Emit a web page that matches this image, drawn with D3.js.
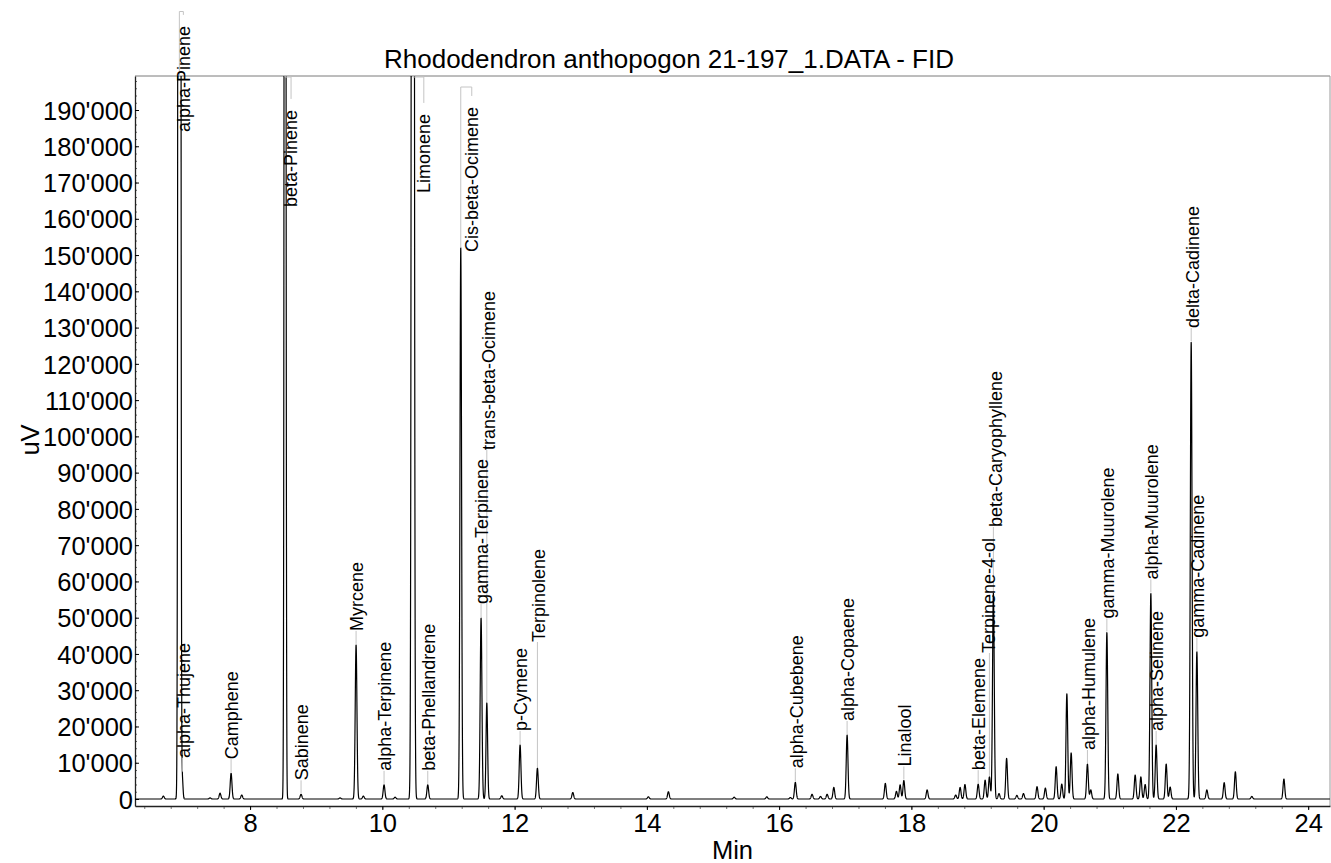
<!DOCTYPE html>
<html>
<head>
<meta charset="utf-8">
<script src="https://cdn.jsdelivr.net/npm/d3@7"></script>
<style>
body { margin: 0; background: #fff; }
text { font-family: "Liberation Sans", Arial, sans-serif; fill: #000; }
</style>
</head>
<body>
<svg id="chart" width="1331" height="863"></svg>
<script>
// peak table: retention time (min), height (uV), peak sigma (min)
var peakTimes = [6.689, 6.931, 6.976, 7.395, 7.546, 7.713, 7.874, 8.529, 8.771, 9.361,
    9.603, 9.713, 10.026, 10.193, 10.461, 10.687, 11.186, 11.493, 11.580, 11.806,
    12.083, 12.345, 12.880, 14.023, 14.326, 15.320, 15.814, 16.170, 16.245, 16.498,
    16.626, 16.726, 16.827, 17.028, 17.606, 17.774, 17.830, 17.886, 18.238, 18.670,
    18.737, 18.810, 19.010, 19.115, 19.180, 19.240, 19.325, 19.440, 19.595, 19.695,
    19.900, 20.026, 20.189, 20.274, 20.351, 20.416, 20.662, 20.713, 20.956, 21.122,
    21.384, 21.470, 21.535, 21.621, 21.701, 21.853, 21.913, 22.231, 22.317, 22.468,
    22.730, 22.899, 23.148, 23.633];
var peakHeights = [800, 2000000, 5500, 300, 1600, 7100, 1100, 700000, 1300, 300,
    42500, 800, 3900, 500, 1000000, 3900, 152000, 49900, 26500, 900,
    14900, 8500, 1800, 600, 2000, 500, 600, 400, 4600, 1300,
    700, 1300, 3200, 17650, 4300, 2100, 3900, 5100, 2500, 1100,
    3200, 4000, 4100, 5200, 6100, 56800, 1500, 11200, 1000, 1500,
    3400, 3000, 8900, 4100, 29000, 12700, 9650, 2500, 45900, 6900,
    6600, 6100, 4000, 56700, 14900, 9650, 3300, 126000, 40600, 2500,
    4500, 7500, 700, 5500];
var peakWidths = [0.013, 0.012, 0.010, 0.013, 0.013, 0.013, 0.013, 0.010, 0.013, 0.013,
    0.013, 0.013, 0.013, 0.013, 0.0142, 0.013, 0.012, 0.013, 0.012, 0.013,
    0.013, 0.013, 0.013, 0.013, 0.013, 0.013, 0.013, 0.013, 0.013, 0.013,
    0.013, 0.013, 0.013, 0.013, 0.013, 0.013, 0.013, 0.013, 0.013, 0.013,
    0.013, 0.013, 0.013, 0.013, 0.013, 0.013, 0.013, 0.013, 0.013, 0.013,
    0.013, 0.013, 0.013, 0.013, 0.013, 0.013, 0.013, 0.013, 0.013, 0.013,
    0.013, 0.013, 0.013, 0.013, 0.013, 0.013, 0.013, 0.013, 0.013, 0.013,
    0.013, 0.013, 0.013, 0.013];

// identified compounds
var compoundNames = ["alpha-Pinene", "alpha-Thujene", "Camphene", "beta-Pinene", "Sabinene",
    "Myrcene", "alpha-Terpinene", "Limonene", "beta-Phellandrene", "Cis-beta-Ocimene",
    "gamma-Terpinene", "trans-beta-Ocimene", "p-Cymene", "Terpinolene", "alpha-Cubebene",
    "alpha-Copaene", "Linalool", "beta-Elemene", "Terpinene-4-ol", "beta-Caryophyllene",
    "alpha-Humulene", "gamma-Muurolene", "alpha-Muurolene", "alpha-Selinene",
    "delta-Cadinene", "gamma-Cadinene"];
var compoundTimes = [6.931, 6.976, 7.713, 8.529, 8.771, 9.603, 10.026, 10.461, 10.687, 11.186,
    11.493, 11.580, 12.083, 12.345, 16.245, 17.028, 17.886, 19.010, 19.180, 19.240,
    20.662, 20.956, 21.621, 21.701, 22.231, 22.317];

var xTickValues = [8, 10, 12, 14, 16, 18, 20, 22, 24];
var yTickValues = [0, 10000, 20000, 30000, 40000, 50000, 60000, 70000, 80000, 90000,
    100000, 110000, 120000, 130000, 140000, 150000, 160000, 170000, 180000, 190000];

var titleText = "Rhododendron anthopogon 21-197_1.DATA - FID";

var svg = d3.select("#chart");
var plotLeft = 135, plotRight = 1330, plotTop = 76, plotBottom = 806;

var x = d3.scaleLinear().domain([6.26, 24.33]).range([plotLeft, plotRight]);
var y = d3.scaleLinear().domain([-1930, 199380]).range([plotBottom, plotTop]);

var fmt = d3.formatLocale({decimal: ".", thousands: "'", grouping: [3], currency: ["", ""]}).format(",d");

// signal at time t = sum of the peaks
function signal(t) {
    var s = 0;
    for (var i = 0; i < peakTimes.length; i++) {
        var d = t - peakTimes[i];
        var w = peakWidths[i];
        if (Math.abs(d) < 10 * w) {
            s += peakHeights[i] * Math.exp(-d * d / (2 * w * w));
        }
    }
    return s;
}

var trace = [];
var step = 0.0015;
for (var t = 6.26; t <= 24.33; t += step) {
    trace.push([t, signal(t)]);
}

svg.append("defs").append("clipPath").attr("id", "plotclip")
    .append("rect").attr("x", plotLeft).attr("y", plotTop)
    .attr("width", plotRight - plotLeft).attr("height", plotBottom - plotTop);

// frame
svg.append("line").attr("x1", plotLeft).attr("x2", plotRight).attr("y1", plotTop).attr("y2", plotTop)
    .attr("stroke", "#7a7a7a").attr("stroke-width", 1);
svg.append("line").attr("x1", plotRight).attr("x2", plotRight).attr("y1", plotTop).attr("y2", plotBottom)
    .attr("stroke", "#9a9a9a").attr("stroke-width", 1);

// x axis
var xMinor = d3.range(6.4, 24.33, 0.4);
svg.append("g").attr("transform", "translate(0," + plotBottom + ")")
    .call(d3.axisBottom(x).tickValues(xMinor).tickSize(3).tickFormat(""))
    .call(function(g) { g.select(".domain").remove(); g.selectAll("line").attr("stroke", "#777"); });
var xAxis = svg.append("g").attr("transform", "translate(0," + plotBottom + ")")
    .call(d3.axisBottom(x).tickValues(xTickValues).tickSize(4).tickSizeOuter(0).tickFormat(d3.format("d")));
xAxis.select(".domain").attr("stroke", "#222").attr("stroke-width", 1.3);
xAxis.selectAll("text").attr("y", 26).attr("dy", null)
    .style("font-size", "25.5px").style("font-family", '"Liberation Sans", Arial, sans-serif');

// y axis
var yMinor = d3.range(0, 199380, 2000);
svg.append("g").attr("transform", "translate(" + plotLeft + ",0)")
    .call(d3.axisLeft(y).tickValues(yMinor).tickSize(-2).tickFormat(""))
    .call(function(g) { g.select(".domain").remove(); g.selectAll("line").attr("stroke", "#666"); });
var yAxis = svg.append("g").attr("transform", "translate(" + plotLeft + ",0)")
    .call(d3.axisLeft(y).tickValues(yTickValues).tickSize(-4).tickSizeOuter(0).tickPadding(2).tickFormat(fmt));
yAxis.select(".domain").attr("stroke", "#222").attr("stroke-width", 1.3);
yAxis.selectAll("text").attr("dy", "0.36em")
    .style("font-size", "25.5px").style("font-family", '"Liberation Sans", Arial, sans-serif');

// titles
svg.append("text").attr("x", 669).attr("y", 68).attr("text-anchor", "middle")
    .style("font-size", "26px").text(titleText);
svg.append("text").attr("x", (plotLeft + plotRight) / 2).attr("y", 859).attr("text-anchor", "middle")
    .style("font-size", "25.5px").text("Min");
svg.append("text").attr("transform", "translate(39,440) rotate(-90)").attr("text-anchor", "middle")
    .style("font-size", "25.5px").text("uV");

// chromatogram trace
var line = d3.line().x(function(d) { return x(d[0]); }).y(function(d) { return y(d[1]); });
svg.append("path").datum(trace)
    .attr("clip-path", "url(#plotclip)")
    .attr("fill", "none").attr("stroke", "#000").attr("stroke-width", 1.2)
    .attr("stroke-linejoin", "round")
    .attr("d", line);

// peak labels: default sits just above the apex, some are lifted or bracketed
var labelLayout = {
    "alpha-Pinene": {bracket: 11.5, bottom: 132, dx: 4},
    "beta-Pinene": {bracket: 77, bottom: 207, dx: 6},
    "Limonene": {bracket: 77, bottom: 193, dx: 11},
    "Cis-beta-Ocimene": {bracket: 87, bottom: 252, dx: 11},
    "alpha-Thujene": {bottom: 758},
    "trans-beta-Ocimene": {bottom: 450, dx: 2},
    "Terpinolene": {bottom: 642},
    "Terpinene-4-ol": {bottom: 653, dx: -1},
    "beta-Caryophyllene": {bottom: 527, dx: 2}
};

var labels = svg.append("g");
compoundNames.forEach(function(name, i) {
    var t = compoundTimes[i];
    var px = x(t);
    var apex = Math.max(y(signal(t)), plotTop);
    var lay = labelLayout[name] || {};
    var dx = lay.dx !== undefined ? lay.dx : 1;
    var lb = lay.bottom !== undefined ? lay.bottom : apex - 14;
    var lx = px + dx;

    var txt = labels.append("text")
        .attr("transform", "translate(" + lx + "," + lb + ") rotate(-90)")
        .attr("dy", "0.35em")
        .style("font-size", "18px")
        .text(name);

    var conn;
    if (lay.bracket !== undefined) {
        var len = txt.node().getComputedTextLength();
        var ltop = lb - len;
        conn = "M" + px + "," + apex + "V" + lay.bracket + "H" + lx + "V" + Math.max(ltop - 11, lay.bracket);
    } else {
        conn = "M" + px + "," + (apex - 1) + "V" + lb;
    }
    labels.insert("path", "text").attr("d", conn)
        .attr("fill", "none").attr("stroke", "#c4c4c4").attr("stroke-width", 1);
});
</script>
</body>
</html>
